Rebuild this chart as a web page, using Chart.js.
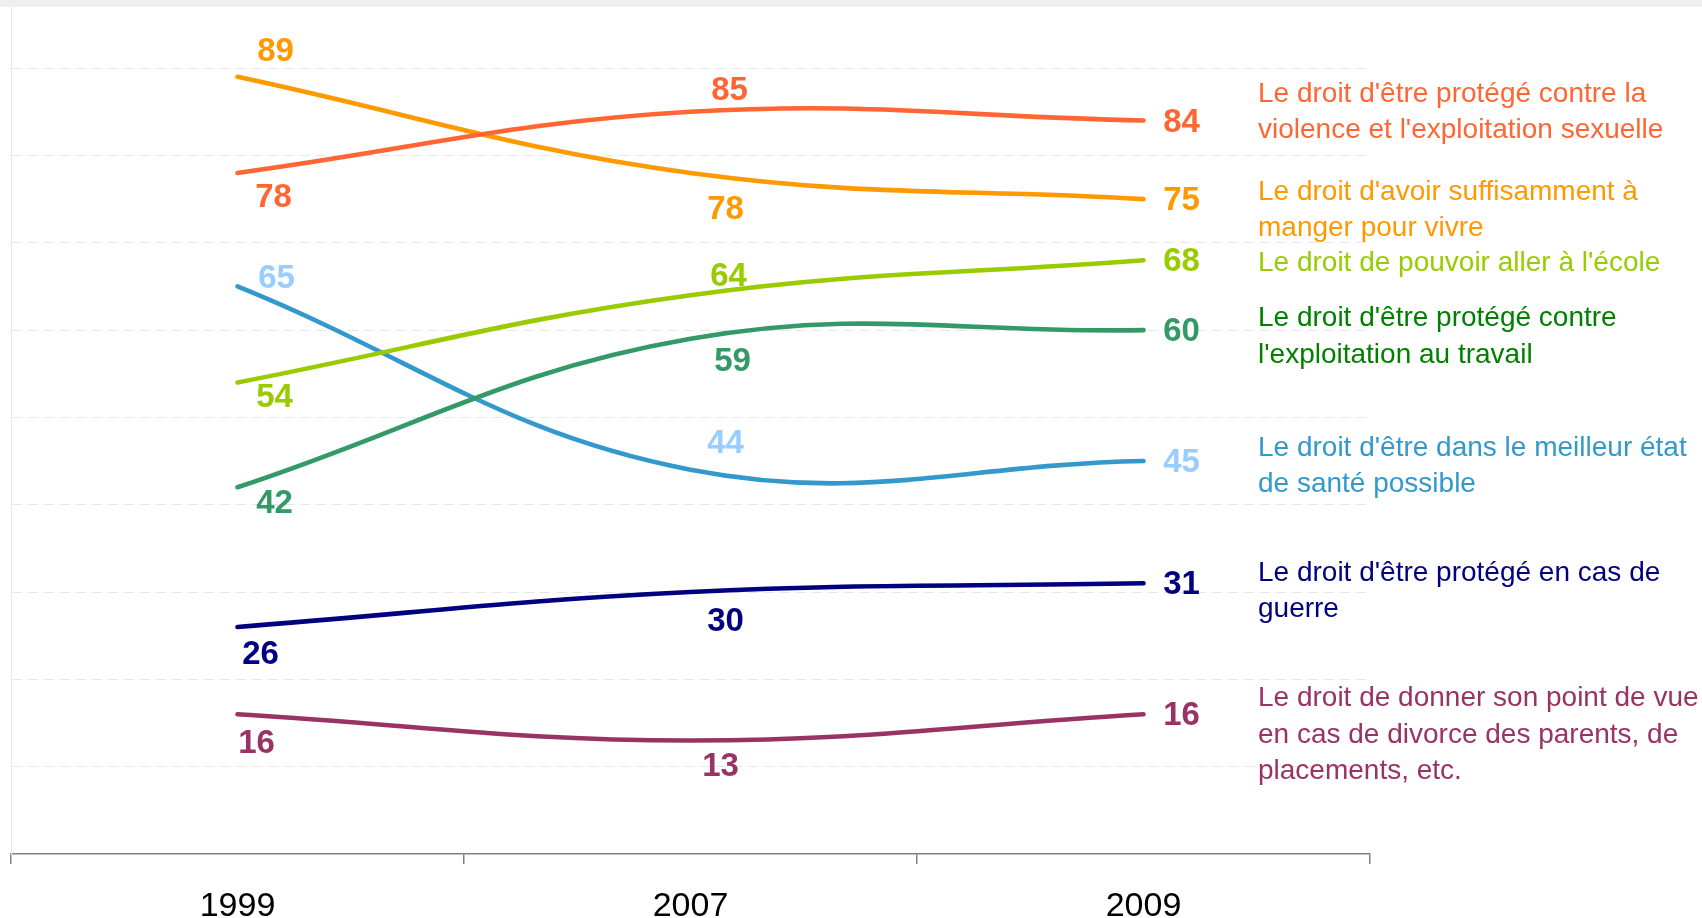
<!DOCTYPE html>
<html>
<head>
<meta charset="utf-8">
<script src="https://cdn.jsdelivr.net/npm/chart.js@4.4.1/dist/chart.umd.min.js"></script>
<style>
  html, body { margin: 0; padding: 0; background: #fff; }
  #wrap { width: 1702px; height: 918px; position: relative; }
</style>
</head>
<body>
<div id="wrap"><canvas id="chart"></canvas></div>
<script>
// Data
const years = ["1999", "2007", "2009"];
const sexualViolence = [78, 85, 84];
const food = [89, 78, 75];
const school = [54, 64, 68];
const labour = [42, 59, 60];
const health = [65, 44, 45];
const war = [26, 30, 31];
const voice = [16, 13, 16];
const yTicks = [0, 10, 20, 30, 40, 50, 60, 70, 80, 90];

const FONT = "'Liberation Sans', Arial, sans-serif";

// Series: line colour, value label colour, legend colour, legend lines
const series = [
  { data: sexualViolence, color: "#FF6633", labelColor: "#FF6633", textColor: "#FF6633",
    lines: ["Le droit d'être protégé contre la", "violence et l'exploitation sexuelle"],
    offsets: [[36, 25], [39, -21], [38, 2]], legendY: [94, 130] },
  { data: food, color: "#FF9900", labelColor: "#FF9900", textColor: "#FF9900",
    lines: ["Le droit d'avoir suffisamment à", "manger pour vivre"],
    offsets: [[38, -25], [35, 37], [38, 2]], legendY: [192, 228] },
  { data: school, color: "#99CC00", labelColor: "#99CC00", textColor: "#99CC00",
    lines: ["Le droit de pouvoir aller à l'école"],
    offsets: [[37, 15], [38, -18], [38, 2]], legendY: [263] },
  { data: labour, color: "#339966", labelColor: "#339966", textColor: "#008000",
    lines: ["Le droit d'être protégé contre", "l'exploitation au travail"],
    offsets: [[37, 17], [42, 23], [38, 2]], legendY: [318, 355] },
  { data: health, color: "#3399CC", labelColor: "#99CCFF", textColor: "#3399CC",
    lines: ["Le droit d'être dans le meilleur état", "de santé possible"],
    offsets: [[39, -8], [35, -26], [38, 2]], legendY: [448, 484] },
  { data: war, color: "#000080", labelColor: "#000080", textColor: "#000080",
    lines: ["Le droit d'être protégé en cas de", "guerre"],
    offsets: [[23, 28], [35, 30], [38, 2]], legendY: [573, 609] },
  { data: voice, color: "#993366", labelColor: "#993366", textColor: "#993366",
    lines: ["Le droit de donner son point de vue", "en cas de divorce des parents, de", "placements, etc."],
    offsets: [[19, 30], [30, 26], [38, 2]], legendY: [698, 735, 771] }
];

// Top grey band
const bandPlugin = {
  id: "band",
  beforeDraw(chart) {
    const ctx = chart.ctx;
    ctx.save();
    ctx.fillStyle = "#efefef";
    ctx.fillRect(0, 0, chart.width, 7);
    ctx.restore();
  }
};

// Value labels and right-hand legend
const labelPlugin = {
  id: "labels",
  afterDatasetsDraw(chart) {
    const ctx = chart.ctx;
    ctx.save();
    ctx.textBaseline = "middle";
    series.forEach((s, i) => {
      const meta = chart.getDatasetMeta(i);
      ctx.font = "bold 33px " + FONT;
      ctx.textAlign = "center";
      ctx.fillStyle = s.labelColor;
      meta.data.forEach((pt, j) => {
        ctx.fillText(String(s.data[j]), pt.x + s.offsets[j][0], pt.y + s.offsets[j][1]);
      });
      ctx.font = "28px " + FONT;
      ctx.textAlign = "left";
      ctx.fillStyle = s.textColor;
      s.lines.forEach((line, k) => {
        ctx.fillText(line, 1258, s.legendY[k]);
      });
    });
    ctx.restore();
  }
};

new Chart(document.getElementById("chart"), {
  type: "line",
  data: {
    labels: years,
    datasets: series.map((s) => ({
      data: s.data,
      borderColor: s.color,
      backgroundColor: s.color,
      borderWidth: 4.6,
      borderCapStyle: "round",
      tension: 0.4,
      pointRadius: 0,
      fill: false
    }))
  },
  options: {
    responsive: true,
    maintainAspectRatio: false,
    animation: false,
    layout: { padding: { left: 11, right: 332, top: 7, bottom: 0 } },
    plugins: { legend: { display: false }, tooltip: { enabled: false } },
    scales: {
      x: {
        offset: true,
        grid: { offset: true, drawOnChartArea: false, drawTicks: true, tickLength: 10, color: "#808080", lineWidth: 1.5 },
        border: { color: "#808080", width: 1.5 },
        ticks: { color: "#000", font: { family: FONT, size: 34 }, padding: 22, maxRotation: 0 },
        afterFit(scale) { scale.height = 64; }
      },
      y: {
        min: 0,
        max: 97,
        afterBuildTicks(scale) { scale.ticks = yTicks.map((v) => ({ value: v })); },
        afterFit(scale) { scale.width = 0; },
        ticks: { display: false },
        grid: {
          drawTicks: false,
          color: (c) => (c.tick && c.tick.value === 0 ? "rgba(0,0,0,0)" : "#e6e6e6"),
          lineWidth: 1
        },
        border: { color: "#e8e8e8", dash: [10, 6], width: 1 }
      }
    }
  },
  plugins: [bandPlugin, labelPlugin]
});
</script>
</body>
</html>
